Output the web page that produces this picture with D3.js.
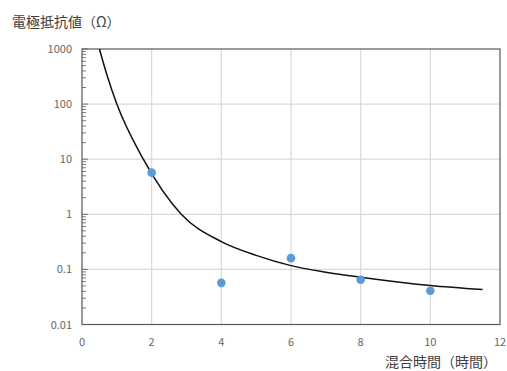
<!DOCTYPE html>
<html><head><meta charset="utf-8">
<script src="https://cdn.jsdelivr.net/npm/d3@7/dist/d3.min.js"></script>
<style>body{margin:0;background:#fff}svg{display:block;font-family:"Noto Sans CJK JP","Noto Sans",sans-serif}</style>
</head><body><svg id="c" width="507" height="371"></svg>
<script>
const pointX = [2, 4, 6, 8, 10];
const pointY = [5.7, 0.057, 0.16, 0.065, 0.041];
const curveX = [0.5, 0.73, 1.0, 1.76, 2.85, 4.0, 5.0, 6.0, 7.0, 8.0, 10.0, 11.5];
const curveY = [1000, 316, 100, 10, 1.0, 0.32, 0.18, 0.117, 0.089, 0.072, 0.051, 0.043];
const xTicks = [0, 2, 4, 6, 8, 10, 12];
const yTicks = [0.01, 0.1, 1, 10, 100, 1000];
const yTickLabels = ["0.01", "0.1", "1", "10", "100", "1000"];
const yTitle = "電極抵抗値（Ω）";
const xTitle = "混合時間（時間）";

const svg = d3.select("#c");
const L = 82, R = 500, T = 49, B = 324.5;
const x = d3.scaleLinear().domain([0, 12]).range([L, R]);
const y = d3.scaleLog().domain([0.01, 1000]).range([B, T]);

const g = svg.append("g");
g.selectAll(".vg").data(xTicks.filter(d => d > 0 && d < 12)).join("line")
  .attr("x1", d => x(d)).attr("x2", d => x(d)).attr("y1", T).attr("y2", B)
  .attr("stroke", "#d9d9d9").attr("stroke-width", 1.2);
g.selectAll(".hg").data(yTicks.filter(d => d > 0.01 && d < 1000)).join("line")
  .attr("x1", L).attr("x2", R).attr("y1", d => y(d)).attr("y2", d => y(d))
  .attr("stroke", "#d9d9d9").attr("stroke-width", 1.2);

const minors = [];
for (let e = -2; e < 3; e++) for (let m = 2; m <= 9; m++) minors.push(m * Math.pow(10, e));
g.selectAll(".mt").data(minors).join("line")
  .attr("x1", L).attr("x2", L + 4).attr("y1", d => y(d)).attr("y2", d => y(d))
  .attr("stroke", "#595959").attr("stroke-width", 0.8);
g.selectAll(".Mt").data(yTicks).join("line")
  .attr("x1", L).attr("x2", L + 6).attr("y1", d => y(d)).attr("y2", d => y(d))
  .attr("stroke", "#595959").attr("stroke-width", 0.8);

svg.append("rect").attr("x", L).attr("y", T).attr("width", R - L).attr("height", B - T)
  .attr("fill", "none").attr("stroke", "#595959").attr("stroke-width", 1.2);

svg.append("g").selectAll("text").data(xTicks).join("text")
  .attr("x", d => x(d)).attr("y", 345.5).attr("text-anchor", "middle")
  .attr("font-size", 11).attr("fill", "#666").text(d => d);
svg.append("g").selectAll("text").data(yTicks).join("text")
  .attr("x", 72).attr("y", d => y(d) + 4).attr("text-anchor", "end")
  .attr("font-size", 11).attr("fill", "#666").text((d, i) => yTickLabels[i]);

const cdata = curveX.map((v, i) => [v, curveY[i]]);
svg.append("path").datum(cdata)
  .attr("d", d3.line().x(d => x(d[0])).y(d => y(d[1])).curve(d3.curveMonotoneX))
  .attr("fill", "none").attr("stroke", "#111").attr("stroke-width", 1.5);

svg.append("g").selectAll("circle").data(pointX.map((v, i) => [v, pointY[i]])).join("circle")
  .attr("cx", d => x(d[0])).attr("cy", d => y(d[1])).attr("r", 4.3).attr("fill", "#5B9BD5");

svg.append("text").attr("x", 12).attr("y", 26.5).attr("font-size", 14).attr("fill", "#404040").text(yTitle);
svg.append("text").attr("x", 497).attr("y", 367).attr("text-anchor", "end").attr("font-size", 14).attr("fill", "#404040").text(xTitle);
</script></body></html>
